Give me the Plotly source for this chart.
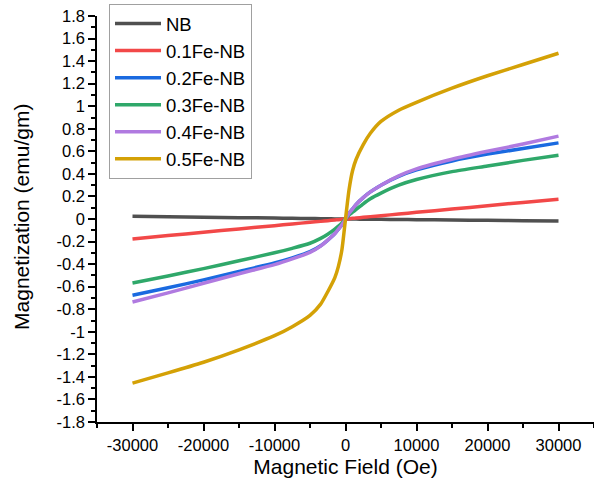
import plotly.graph_objects as go

# Magnetic field (Oe)
H = [-30000, -25000, -20000, -15000, -10000, -7500, -5000, -3500, -2500, -1500, -1000, -500,
     0, 500, 1000, 1500, 2500, 3500, 5000, 7500, 10000, 15000, 20000, 25000, 30000]

NB   = [0.024, 0.020, 0.016, 0.012, 0.008, 0.006, 0.004, 0.003, 0.002, 0.001, 0.001, 0.0,
        0.0, 0.0, -0.001, -0.001, -0.002, -0.002, -0.003, -0.005, -0.006, -0.009, -0.012, -0.015, -0.018]
Fe01 = [-0.177, -0.147, -0.118, -0.088, -0.059, -0.044, -0.029, -0.021, -0.015, -0.009, -0.006, -0.003,
        0.0, 0.003, 0.006, 0.009, 0.015, 0.021, 0.029, 0.044, 0.059, 0.088, 0.118, 0.147, 0.175]
Fe02 = [-0.676, -0.610, -0.540, -0.465, -0.390, -0.345, -0.290, -0.237, -0.187, -0.130, -0.090, -0.050,
        0.0, 0.050, 0.090, 0.130, 0.190, 0.240, 0.300, 0.378, 0.435, 0.515, 0.575, 0.625, 0.675]
Fe03 = [-0.567, -0.505, -0.440, -0.370, -0.300, -0.260, -0.215, -0.172, -0.135, -0.090, -0.063, -0.035,
        0.0, 0.035, 0.060, 0.085, 0.135, 0.180, 0.230, 0.300, 0.350, 0.420, 0.470, 0.520, 0.565]
Fe04 = [-0.736, -0.655, -0.570, -0.485, -0.405, -0.354, -0.296, -0.240, -0.187, -0.130, -0.090, -0.050,
        0.0, 0.050, 0.090, 0.130, 0.190, 0.240, 0.300, 0.383, 0.445, 0.530, 0.600, 0.665, 0.735]
Fe05 = [-1.455, -1.365, -1.270, -1.160, -1.035, -0.955, -0.855, -0.755, -0.645, -0.520, -0.420, -0.270,
        0.0, 0.260, 0.430, 0.530, 0.660, 0.760, 0.865, 0.965, 1.035, 1.160, 1.270, 1.370, 1.470]

names = ["NB", "0.1Fe-NB", "0.2Fe-NB", "0.3Fe-NB", "0.4Fe-NB", "0.5Fe-NB"]
series = [NB, Fe01, Fe02, Fe03, Fe04, Fe05]
colors = ["#505050", "#f24848", "#1a6ae0", "#2fa86a", "#b07ae0", "#d4a106"]

x_tickvals = [-30000, -20000, -10000, 0, 10000, 20000, 30000]
x_ticktext = ["-30000", "-20000", "-10000", "0", "10000", "20000", "30000"]
y_tickvals = [-1.8, -1.6, -1.4, -1.2, -1.0, -0.8, -0.6, -0.4, -0.2, 0, 0.2, 0.4, 0.6, 0.8, 1.0, 1.2, 1.4, 1.6, 1.8]
y_ticktext = ["-1.8", "-1.6", "-1.4", "-1.2", "-1", "-0.8", "-0.6", "-0.4", "-0.2", "0",
              "0.2", "0.4", "0.6", "0.8", "1", "1.2", "1.4", "1.6", "1.8"]
x_title = "Magnetic Field (Oe)"
y_title = "Magnetization (emu/gm)"

fig = go.Figure()
for name, ys, c in zip(names, series, colors):
    fig.add_trace(go.Scatter(x=H, y=ys, mode="lines", name=name,
                             line=dict(color=c, width=3.5, shape="spline", smoothing=0.6)))

font = "Liberation Sans, Arial, sans-serif"
fig.update_layout(
    width=594, height=486,
    margin=dict(l=97, r=0, t=16, b=64, autoexpand=False),
    paper_bgcolor="white", plot_bgcolor="white",
    font=dict(family=font, color="black"),
    showlegend=True,
    legend=dict(xref="container", yref="container", x=109 / 594, y=1 - 4 / 486,
                xanchor="left", yanchor="top", itemwidth=46,
                bordercolor="#a0a0a0", borderwidth=1, bgcolor="white",
                font=dict(size=18.5, family=font), tracegroupgap=0),
    xaxis=dict(range=[-35000, 35000], showgrid=False, zeroline=False, automargin=True,
               showline=True, linecolor="black", linewidth=1.5,
               ticks="outside", ticklen=7, tickwidth=1.5, tickcolor="black",
               tickmode="array", tickvals=x_tickvals, ticktext=x_ticktext,
               tickfont=dict(size=16.5),
               minor=dict(dtick=5000, tick0=-35000, ticks="outside", ticklen=4,
                          tickwidth=1.5, tickcolor="black", showgrid=False),
               title=dict(text=x_title, font=dict(size=21), standoff=7)),
    yaxis=dict(range=[-1.8, 1.8], showgrid=False, zeroline=False, automargin=False,
               showline=True, linecolor="black", linewidth=1.5,
               ticks="outside", ticklen=7, tickwidth=1.5, tickcolor="black",
               tickmode="array", tickvals=y_tickvals, ticktext=y_ticktext,
               tickfont=dict(size=16.5),
               minor=dict(dtick=0.1, tick0=-1.8, ticks="outside", ticklen=4,
                          tickwidth=1.5, tickcolor="black", showgrid=False)),
    annotations=[dict(text=y_title, xref="paper", yref="paper",
                      x=(22 - 97) / 497, y=0.505, xanchor="center", yanchor="middle",
                      textangle=-90, showarrow=False, font=dict(size=21, family=font))],
)

fig.write_html("out.html", config={"displayModeBar": False},
               post_script="document.body.style.margin='0';document.body.style.overflow='hidden';")
